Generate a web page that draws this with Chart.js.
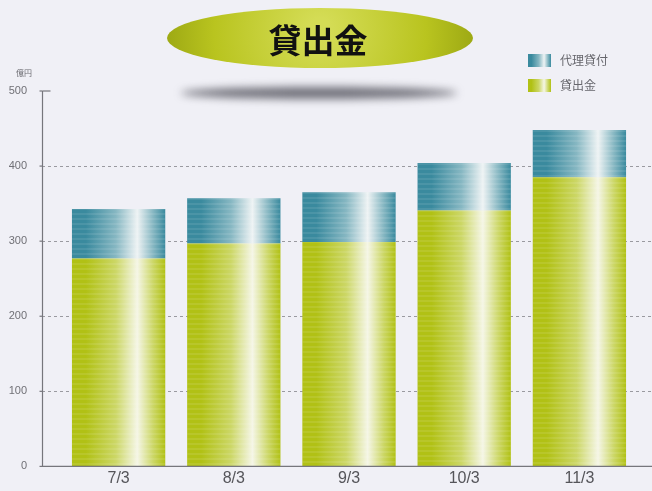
<!DOCTYPE html>
<html>
<head>
<meta charset="utf-8">
<script src="https://cdn.jsdelivr.net/npm/chart.js@4"></script>
<style>
  html, body { margin: 0; padding: 0; background: #f0f0f6; overflow: hidden; }
  canvas { display: block; }
</style>
</head>
<body>
<canvas id="kashidashi" width="652" height="499"></canvas>
<script>
const categories = ['7/3', '8/3', '9/3', '10/3', '11/3'];
const loanValues = [277, 297, 299, 341, 385];      // 貸出金
const agencyValues = [66, 60, 66, 63, 63];          // 代理貸付
const yTicks = [0, 100, 200, 300, 400, 500];
const titleText = '貸出金';
const unitText = '億円';

const jpFont = '"Noto Sans CJK JP", sans-serif';
const numFont = '"Liberation Sans Narrow", "Liberation Sans", sans-serif';

const yellow = { dark: '#b1c115', mid: '#ccd766', light: '#f5f6e6' };
const teal = { dark: '#3a8a9e', mid: '#86b7c2', light: '#eef3f4' };

function fillGrad(ctx, left, width, c) {
  const g = ctx.createLinearGradient(left, 0, left + width, 0);
  g.addColorStop(0, c.dark);
  g.addColorStop(0.15, c.dark);
  g.addColorStop(0.47, c.mid);
  g.addColorStop(0.7, c.light);
  g.addColorStop(0.87, c.mid);
  g.addColorStop(1, c.dark);
  return g;
}

function barColor(c, colors) {
  const chart = c.chart;
  if (!chart.chartArea || c.dataIndex === undefined) return colors.dark;
  const xs = chart.scales.x;
  const center = xs.getPixelForValue(c.dataIndex);
  const w = xs.width / categories.length * 0.81;
  return fillGrad(chart.ctx, center - w / 2, w, colors);
}

const decor = {
  id: 'decor',
  beforeDraw(chart) {
    const { ctx } = chart;
    ctx.save();
    ctx.fillStyle = '#f0f0f6';
    ctx.fillRect(0, 0, chart.width, chart.height);
    ctx.restore();
  },
  beforeDatasetsDraw(chart) {
    const { ctx, chartArea, scales: { y } } = chart;
    const axisX = chartArea.left - 19;
    ctx.save();
    ctx.strokeStyle = '#9a9aa0';
    ctx.lineWidth = 1;
    ctx.setLineDash([3, 3]);
    yTicks.forEach(v => {
      if (v === 0 || v === 500) return;
      const py = Math.round(y.getPixelForValue(v)) + 0.5;
      ctx.beginPath();
      ctx.moveTo(axisX, py);
      ctx.lineTo(chart.width, py);
      ctx.stroke();
    });
    ctx.restore();
  },
  afterDatasetsDraw(chart) {
    const { ctx, chartArea, scales: { y } } = chart;
    const axisX = chartArea.left - 19 + 0.5;
    // soft stripes on bars
    ctx.save();
    chart.data.datasets.forEach((ds, i) => {
      chart.getDatasetMeta(i).data.forEach(el => {
        const l = el.x - el.width / 2;
        ctx.save();
        ctx.beginPath();
        ctx.rect(l, el.y, el.width, el.base - el.y);
        ctx.clip();
        ctx.fillStyle = 'rgba(255,255,255,0.09)';
        for (let py = Math.floor(el.y); py < el.base; py += 5) {
          ctx.fillRect(l, py, el.width, 2);
        }
        ctx.restore();
      });
    });
    ctx.restore();

    ctx.save();
    ctx.strokeStyle = '#76767c';
    ctx.lineWidth = 1.2;
    const top = y.getPixelForValue(500);
    const bottom = y.getPixelForValue(0);
    ctx.beginPath();
    ctx.moveTo(axisX, top);
    ctx.lineTo(axisX, bottom);
    ctx.lineTo(chart.width, bottom);
    ctx.stroke();
    ctx.beginPath();
    ctx.moveTo(axisX, top);
    ctx.lineTo(axisX + 8, top);
    ctx.stroke();
    yTicks.forEach(v => {
      const py = y.getPixelForValue(v);
      ctx.beginPath();
      ctx.moveTo(axisX - 3, py);
      ctx.lineTo(axisX, py);
      ctx.stroke();
    });
    ctx.fillStyle = '#6a6a70';
    ctx.font = '8px ' + jpFont;
    ctx.textAlign = 'center';
    ctx.textBaseline = 'middle';
    ctx.fillText(unitText, 24, top - 18);
    ctx.restore();
  },
  afterDraw(chart) {
    const { ctx } = chart;
    // title pill
    ctx.save();
    ctx.filter = 'blur(4px)';
    ctx.fillStyle = 'rgba(80,80,90,0.8)';
    ctx.beginPath();
    ctx.ellipse(319, 93, 138, 6, 0, 0, Math.PI * 2);
    ctx.fill();
    ctx.restore();

    ctx.save();
    const rg = ctx.createRadialGradient(320, 28, 10, 320, 38, 170);
    rg.addColorStop(0, '#d4dc55');
    rg.addColorStop(0.6, '#b9c41f');
    rg.addColorStop(1, '#94a010');
    ctx.fillStyle = rg;
    ctx.beginPath();
    ctx.ellipse(320, 38, 153, 30, 0, 0, Math.PI * 2);
    ctx.fill();
    ctx.fillStyle = '#111';
    ctx.font = 'bold 33px ' + jpFont;
    ctx.textAlign = 'center';
    ctx.textBaseline = 'middle';
    ctx.fillText(titleText, 318, 40);
    ctx.restore();

    // legend
    ctx.save();
    const items = chart.data.datasets.map(ds => ({ label: ds.label, colors: ds.colorSet })).reverse();
    items.forEach((it, k) => {
      const top = 54 + k * 25;
      ctx.fillStyle = fillGrad(ctx, 528, 23, it.colors);
      ctx.fillRect(528, top, 23, 13);
      ctx.fillStyle = '#66666c';
      ctx.font = '12px ' + jpFont;
      ctx.textAlign = 'left';
      ctx.textBaseline = 'middle';
      ctx.fillText(it.label, 560, top + 6.5);
    });
    ctx.restore();
  }
};

new Chart(document.getElementById('kashidashi'), {
  type: 'bar',
  data: {
    labels: categories,
    datasets: [
      {
        label: '貸出金',
        data: loanValues,
        colorSet: yellow,
        backgroundColor: c => barColor(c, yellow),
        borderWidth: 0
      },
      {
        label: '代理貸付',
        data: agencyValues,
        colorSet: teal,
        backgroundColor: c => barColor(c, teal),
        borderWidth: 0
      }
    ]
  },
  options: {
    responsive: false,
    animation: false,
    devicePixelRatio: 1,
    layout: { padding: { top: 91, right: 15, left: 0, bottom: 0 } },
    datasets: { bar: { barPercentage: 0.81, categoryPercentage: 1 } },
    plugins: { legend: { display: false }, tooltip: { enabled: false } },
    scales: {
      x: {
        stacked: true,
        grid: { display: false, drawTicks: false },
        border: { display: false },
        ticks: { color: '#55555a', font: { family: numFont, size: 16 }, padding: 3 }
      },
      y: {
        stacked: true,
        min: 0,
        max: 500,
        grid: { display: false },
        border: { display: false },
        afterBuildTicks: s => { s.ticks = yTicks.map(v => ({ value: v })); },
        ticks: { color: '#707076', font: { family: numFont, size: 11 }, padding: 26 },
        afterFit: s => { s.width = 61; }
      }
    }
  },
  plugins: [decor]
});
</script>
</body>
</html>
